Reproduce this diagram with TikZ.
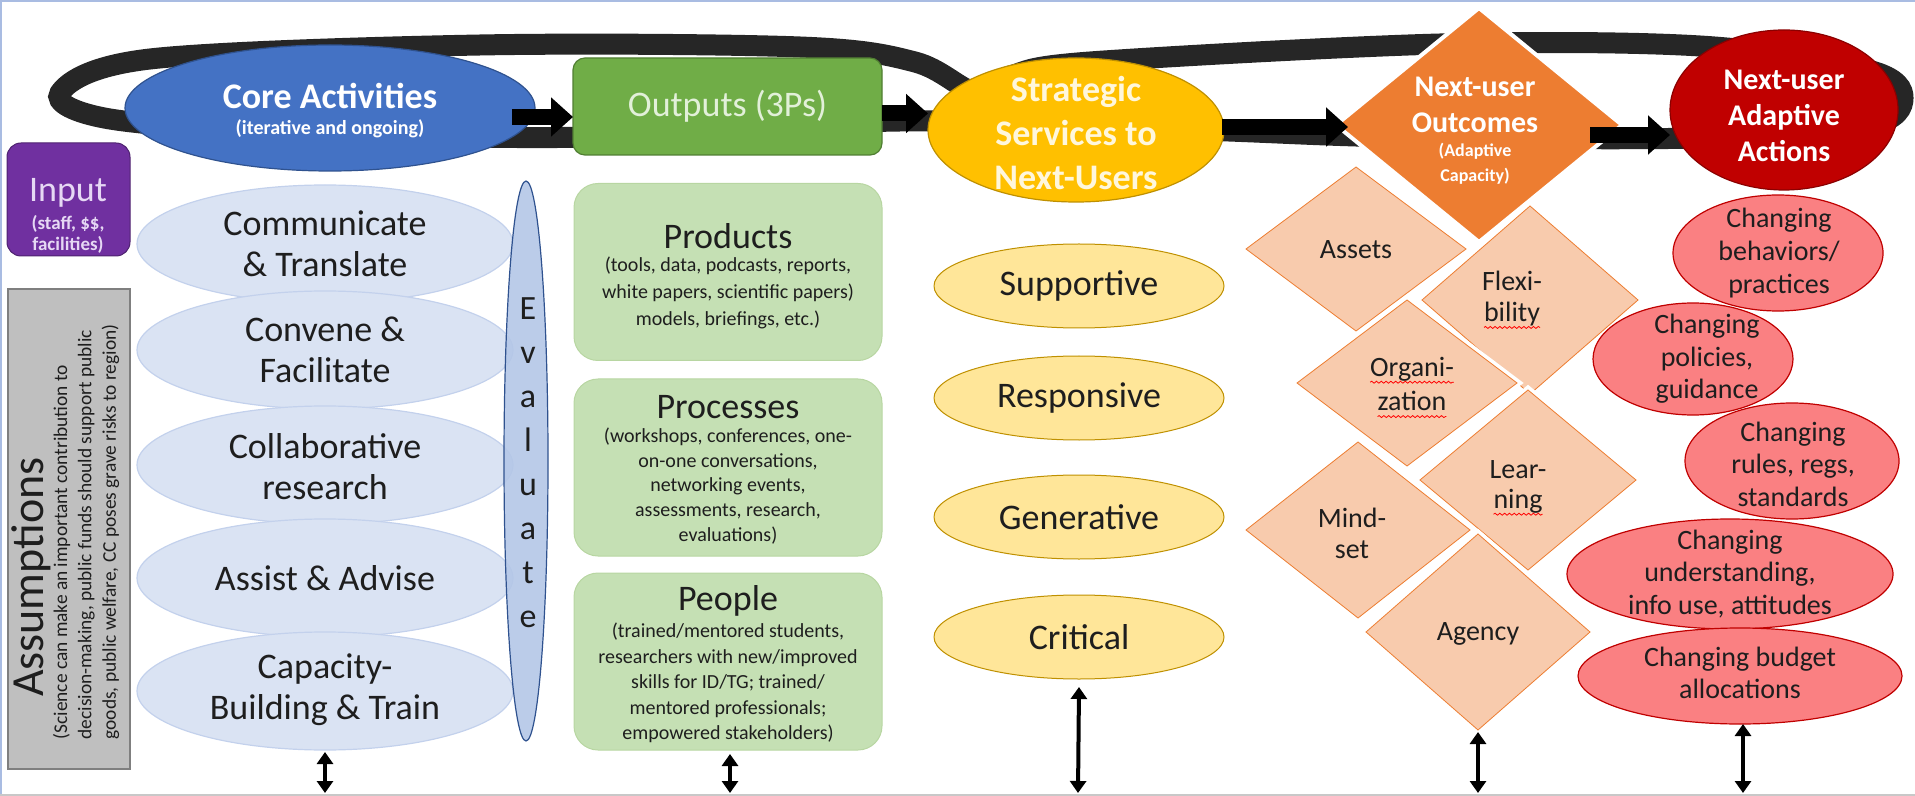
\documentclass[tikz,border=0pt]{standalone}
\usepackage{fontspec}
\setmainfont{Carlito}
\usetikzlibrary{shapes.geometric,arrows.meta,decorations.pathmorphing,calc}
\definecolor{framec}{HTML}{A9BCE2}
\definecolor{botline}{HTML}{C8C8C8}
\definecolor{loopc}{HTML}{262626}
\definecolor{coreblue}{HTML}{4472C4}
\definecolor{coreblueb}{HTML}{2F528F}
\definecolor{outgreen}{HTML}{70AD47}
\definecolor{outgreenb}{HTML}{507E32}
\definecolor{outtext}{HTML}{E2F0D9}
\definecolor{stratyel}{HTML}{FFC000}
\definecolor{stratyelb}{HTML}{BF9000}
\definecolor{stratext}{HTML}{FFF7DC}
\definecolor{outcor}{HTML}{ED7D31}
\definecolor{adapred}{HTML}{C00000}
\definecolor{adapredb}{HTML}{8B0000}
\definecolor{inpurple}{HTML}{7030A0}
\definecolor{intext}{HTML}{E6D8F4}
\definecolor{assgray}{HTML}{BFBFBF}
\definecolor{assgrayb}{HTML}{7F7F7F}
\definecolor{lblue}{HTML}{DAE3F3}
\definecolor{lblueb}{HTML}{C3D1EC}
\definecolor{evalblue}{HTML}{B4C7E7}
\definecolor{lgreen}{HTML}{C5E0B4}
\definecolor{lgreenb}{HTML}{B8D6A2}
\definecolor{lyellow}{HTML}{FFE699}
\definecolor{lorange}{HTML}{F8CBAD}
\definecolor{lred}{HTML}{FA8082}
\definecolor{txtdark}{HTML}{1E1E1E}
\begin{document}
\begin{tikzpicture}[x=0.5pt,y=-0.5pt,
  every node/.style={inner sep=0pt, outer sep=0pt, text=txtdark},
  lbell/.style={ellipse, fill=lblue, draw=lblueb, line width=0.6pt, minimum width=188pt, minimum height=59pt},
  gbox/.style={rectangle, rounded corners=12pt, fill=lgreen, draw=lgreenb, line width=0.5pt, minimum width=154pt, minimum height=88.5pt},
  yell/.style={ellipse, fill=lyellow, draw=stratyelb, line width=0.5pt, minimum width=145pt, minimum height=42pt},
  odia/.style={diamond, fill=lorange, draw=outcor, line width=0.4pt, preaction={draw=white, line width=4pt}},
  rell/.style={ellipse, fill=lred, draw=adapred, line width=0.6pt},
  blk/.style={line width=8pt, draw=black, -{Triangle[width=19pt,length=11pt]}},
  dbl/.style={line width=2pt, draw=black, {Triangle[width=8pt,length=6pt]}-{Triangle[width=8pt,length=6pt]}},
  bigt/.style={font=\fontsize{18}{20.5}\selectfont, align=center},
  midt/.style={font=\fontsize{14}{16.3}\selectfont, align=center},
  wavy/.style={red, line width=0.4pt, decorate, decoration={snake, amplitude=0.5pt, segment length=2.4pt}}
]
\useasboundingbox (0,0) rectangle (1915,796);
% frame
\draw[framec, line width=1.2pt] (1,796) -- (1,1) -- (1915,1);
\draw[botline, line width=1pt] (0,795) -- (1915,795);

% loop
\draw[loopc, line width=10.5pt] plot[smooth cycle, tension=0.55] coordinates {
 (60,93) (150,59) (480,45) (800,47) (915,62) (975,92) (1010,76) (1090,62) (1440,44) (1700,46) (1868,70) (1903,98)
 (1868,126) (1700,138) (1400,137) (1200,130) (900,121) (600,137) (300,133) (110,119)};

% top row
\node[ellipse, fill=coreblue, draw=coreblueb, line width=0.6pt, minimum width=205pt, minimum height=63pt] (core) at (330,108) {};
\node[text=white, font=\bfseries\fontsize{18}{20}\selectfont] (coret) at (330,96) {Core Activities};
\node[text=white, font=\bfseries\fontsize{10}{12}\selectfont] (cores) at (330,129) {(iterative and ongoing)};

\node[rectangle, rounded corners=6pt, fill=outgreen, draw=outgreenb, line width=0.6pt, minimum width=154.5pt, minimum height=48.5pt] (outputs) at (727.5,106.5) {};
\node[text=outtext, font=\fontsize{18}{20}\selectfont] at (outputs) {Outputs (3Ps)};

\node[ellipse, fill=stratyel, draw=stratyelb, line width=0.6pt, minimum width=148pt, minimum height=72pt] (strat) at (1076,130) {};
\node[text=stratext, font=\bfseries\fontsize{18}{22}\selectfont, align=center] at (1076,133) {Strategic\\Services to\\Next-Users};

\node[diamond, fill=outcor, draw=white, line width=2pt, minimum width=143pt, minimum height=117pt] (outc) at (1479,125) {};
\node[text=white, font=\bfseries\fontsize{15}{18}\selectfont, align=center] at (1475,105) {Next-user\\Outcomes};
\node[text=white, font=\bfseries\fontsize{9}{12.5}\selectfont, align=center] at (1475,164) {(Adaptive\\Capacity)};

\node[ellipse, fill=adapred, draw=adapredb, line width=0.6pt, minimum width=114pt, minimum height=80pt] (adapt) at (1784,110) {};
\node[text=white, font=\bfseries\fontsize{15}{18}\selectfont, align=center] at (1784,116) {Next-user\\Adaptive\\Actions};

% block arrows
\coordinate (a1s) at ($(core.east)+(-23,9)$);
\draw[blk] (a1s) -- (outputs.west |- a1s);
\coordinate (a2s) at ($(outputs.east)+(0,7)$);
\draw[blk] (a2s) -- (strat.west |- a2s);
\coordinate (a3s) at ($(strat.east)+(-2,-3)$);
\draw[blk] (a3s) -- ($(outc.west |- a3s)+(12,0)$);
\coordinate (a4s) at ($(outc.east)+(-32,10)$);
\draw[blk] (a4s) -- (adapt.west |- a4s);

% input and assumptions
\node[rectangle, rounded corners=7pt, fill=inpurple, draw=inpurple!70!black, line width=0.5pt, minimum width=61.5pt, minimum height=56.5pt] (input) at (68.5,199.5) {};
\node[text=intext, font=\fontsize{18}{20}\selectfont] at (68,193) {Input};
\node[text=intext, font=\bfseries\fontsize{9.5}{10.5}\selectfont, align=center] at (68,234) {(staff, \$\$,\\facilities)};

\node[rectangle, fill=assgray, draw=assgrayb, line width=0.6pt, minimum width=61pt, minimum height=240pt] (assum) at (69,529) {};
\node[rotate=90, anchor=center, font=\fontsize{23}{26}\selectfont] (assumt) at (31,577) {Assumptions};
\node[rotate=90, anchor=center, align=left, font=\fontsize{9.7}{12.2}\selectfont] (assums) at (86,532) {(Science can make an important contribution to\\decision-making, public funds should support public\\goods, public welfare, CC poses grave risks to region)};

% core activities column
\node[lbell] (comm) at (325,244) {};
\node[lbell] (conv) at (325,350) {};
\node[lbell] (coll) at (325,465) {};
\node[lbell] (assist) at (325,578) {};
\node[lbell] (cap) at (325,691) {};
\node[bigt] at (comm) {Communicate\\\& Translate};
\node[bigt] at (conv) {Convene \&\\Facilitate};
\node[bigt] at ($(coll)+(0,2)$) {Collaborative\\research};
\node[bigt] at (assist) {Assist \& Advise};
\node[bigt] at ($(cap)+(0,-1)$) {Capacity-\\Building \& Train};

\node[ellipse, fill=evalblue, fill opacity=0.9, draw=coreblueb, line width=0.6pt, minimum width=22pt, minimum height=280pt] (eval) at (526,461) {};
\node[font=\fontsize{17}{22}\selectfont, align=center] at (528,463) {E\\v\\a\\l\\u\\a\\t\\e};

% outputs column
\node[gbox] (prod) at (728,272) {};
\node[gbox] (proc) at (728,467.5) {};
\node[gbox] (peop) at (728,661.5) {};
\node[font=\fontsize{18}{20}\selectfont] at (728,236) {Products};
\node[font=\fontsize{10}{13.5}\selectfont, align=center] at (728,293) {(tools, data, podcasts, reports,\\white papers, scientific papers)\\models, briefings, etc.)};
\node[font=\fontsize{18}{20}\selectfont] at (728,407) {Processes};
\node[font=\fontsize{10}{12.4}\selectfont, align=center] at (728,486) {(workshops, conferences, one-\\on-one conversations,\\networking events,\\assessments, research,\\evaluations)};
\node[font=\fontsize{18}{20}\selectfont] at (728,601) {People};
\node[font=\fontsize{10}{12.75}\selectfont, align=center] at (728,683) {(trained/mentored students,\\researchers with new/improved\\skills for ID/TG; trained/\\mentored professionals;\\empowered stakeholders)};

% strategic column
\node[yell] (supp) at (1079,286) {};
\node[yell] (resp) at (1079,398) {};
\node[yell] (gene) at (1079,517) {};
\node[yell] (crit) at (1079,637) {};
\node[bigt] at (supp) {Supportive};
\node[bigt] at (resp) {Responsive};
\node[bigt] at (gene) {Generative};
\node[bigt] at (crit) {Critical};

% outcome diamonds
\node[odia, minimum width=110pt, minimum height=82pt] (assets) at (1356,249) {};
\node[odia, minimum width=108pt, minimum height=94pt] (flex) at (1530,300) {};
\node[odia, minimum width=110pt, minimum height=83pt] (orgn) at (1407,383) {};
\node[odia, minimum width=108pt, minimum height=90pt] (lear) at (1528,480) {};
\node[odia, minimum width=112pt, minimum height=88pt] (mind) at (1358,530) {};
\node[odia, minimum width=112pt, minimum height=98pt] (agen) at (1478,632) {};
\node[midt] at (1356,250) {Assets};
\node[midt] (fl1) at (1512,281) {Flexi-};
\node[midt] (fl2) at (1512,314) {bility};
\node[midt] (or1) at (1412,369) {Organi-};
\node[midt] (or2) at (1412,401) {zation};
\node[midt] (le1) at (1518,470) {Lear-};
\node[midt] (le2) at (1518,501) {ning};
\node[midt] at (1352,518) {Mind-};
\node[midt] at (1352,550) {set};
\node[midt] at (1478,634) {Agency};
\draw[wavy] ([yshift=-3pt]fl2.base west) -- ([yshift=-3pt]fl2.base east);
\draw[wavy] ([yshift=-3pt]or1.base west) -- ([yshift=-3pt]or1.base east);
\draw[wavy] ([yshift=-3pt]or2.base west) -- ([yshift=-3pt]or2.base east);
\draw[wavy] ([yshift=-3pt]le2.base west) -- ([yshift=-3pt]le2.base east);

% adaptive actions column
\node[rell, minimum width=105pt, minimum height=58pt] (beh) at (1778,253) {};
\node[rell, minimum width=100pt, minimum height=56pt] (pol) at (1693,359) {};
\node[rell, minimum width=107pt, minimum height=58pt] (rul) at (1792,461) {};
\node[rell, minimum width=163pt, minimum height=55pt] (und) at (1730,574) {};
\node[rell, minimum width=162pt, minimum height=48pt] (bud) at (1740,676) {};
\node[midt] at (1779,253) {Changing\\behaviors/\\practices};
\node[midt] at (1707,359) {Changing\\policies,\\guidance};
\node[midt] at (1793,464) {Changing\\rules, regs,\\standards};
\node[midt] at (1730,574) {Changing\\understanding,\\info use, attitudes};
\node[midt] at (1740,673) {Changing budget\\allocations};

% bottom arrows
\coordinate (e1) at (325,793);
\coordinate (e2) at (730,793);
\coordinate (e3) at (1078,793);
\coordinate (e4) at (1478,793);
\coordinate (e5) at (1743,793);
\draw[dbl] ([yshift=-1pt]cap.south) -- (e1);
\draw[dbl] ([yshift=-2pt]peop.south -| e2) -- (e2);
\draw[dbl] ([yshift=-4pt]crit.south) -- (e3);
\draw[dbl] ([yshift=-1pt]agen.south) -- (e4);
\draw[dbl] (bud.south -| e5) -- (e5);
\end{tikzpicture}
\end{document}
